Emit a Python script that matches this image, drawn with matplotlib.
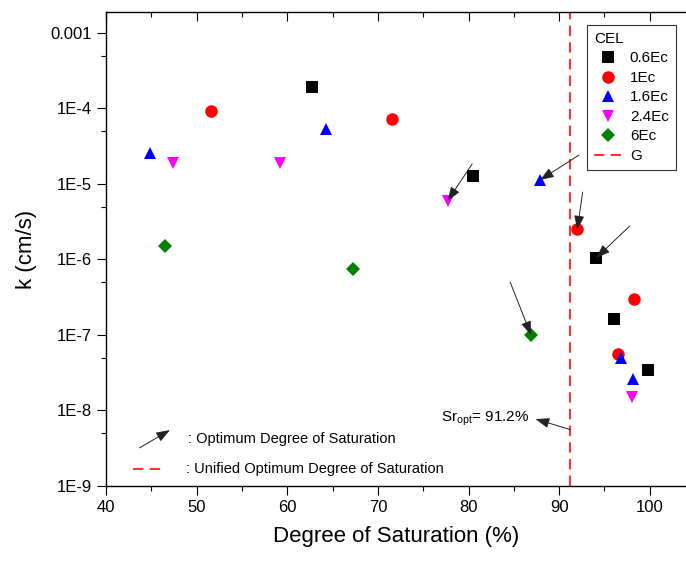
import numpy as np
import matplotlib
matplotlib.use('Agg')
import matplotlib.pyplot as plt
from matplotlib.ticker import FixedLocator, MultipleLocator, NullFormatter

plt.rcParams['font.family'] = ['Liberation Sans', 'DejaVu Sans']
plt.rcParams['mathtext.fontset'] = 'custom'
plt.rcParams['mathtext.rm'] = 'Liberation Sans'
plt.rcParams['mathtext.it'] = 'Liberation Sans:italic'

# 饱和度 Sr(%) 与渗透系数 k(cm/s)，按压实功能 CEL 分组
series_names = ['0.6Ec', '1Ec', '1.6Ec', '2.4Ec', '6Ec']
sr_06 = [62.7, 80.5, 94.1, 96.1, 99.8]
k_06 = [1.93e-4, 1.28e-5, 1.05e-6, 1.62e-7, 3.4e-8]
sr_1 = [51.6, 71.6, 92.0, 98.3, 96.5]
k_1 = [9.3e-5, 7.3e-5, 2.5e-6, 3.0e-7, 5.6e-8]
sr_16 = [44.9, 64.3, 87.9, 96.8, 98.1]
k_16 = [2.6e-5, 5.3e-5, 1.13e-5, 4.9e-8, 2.6e-8]
sr_24 = [47.4, 59.2, 77.7, 98.0]
k_24 = [1.9e-5, 1.9e-5, 6.0e-6, 1.5e-8]
sr_6 = [46.5, 67.2, 86.9]
k_6 = [1.5e-6, 7.5e-7, 1.0e-7]

# 统一最优饱和度
sr_unified = 91.2

# 最优饱和度箭头：(箭尾Sr, 箭尾k, 目标点Sr, 目标点k)
opt_arrows = [
    (80.4, 1.84e-5, sr_24[2], k_24[2]),
    (92.2, 2.42e-5, sr_16[2], k_16[2]),
    (92.6, 7.8e-6, sr_1[2], k_1[2]),
    (97.8, 2.78e-6, sr_06[2], k_06[2]),
    (84.6, 5.0e-7, sr_6[2], k_6[2]),
]

ARROW = dict(arrowstyle='-|>,head_length=0.6,head_width=0.22', lw=0.7,
             color='#222222', shrinkA=0, shrinkB=0, mutation_scale=14)

fig = plt.figure(figsize=(6.86, 5.63), dpi=100)
ax = fig.add_axes([106 / 686, 1 - 486 / 563, 580 / 686, 474 / 563])

styles = [
    (sr_06, k_06, 's', 'black', 8),
    (sr_1, k_1, 'o', 'red', 9),
    (sr_16, k_16, '^', 'blue', 9),
    (sr_24, k_24, 'v', 'magenta', 9),
    (sr_6, k_6, 'D', 'green', 7.5),
]
for name, (xs, ys, mk, c, ms) in zip(series_names, styles):
    ax.plot(xs, ys, linestyle='none', marker=mk, color=c, markersize=ms,
            markeredgewidth=0, label=name, zorder=3)

ax.axvline(sr_unified, color='#ff3333', lw=1.5, dashes=(5, 3), label='G', zorder=2)

for x0, y0, x1, y1 in opt_arrows:
    ax.annotate('', xy=(x1, y1), xytext=(x0, y0), arrowprops=ARROW, zorder=4)

# Sr_opt 标注
ax.annotate('', xy=(87.4, 7.7e-9), xytext=(sr_unified, 5.6e-9), arrowprops=ARROW)
ax.text(86.7, 7.7e-9, r'Sr$_{\rm opt}$= 91.2%', fontsize=11, ha='right', va='center')

# 图例说明（左下）
ax.annotate('', xy=(47.05, 5.5e-9), xytext=(43.7, 3.2e-9), arrowprops=ARROW)
ax.text(49.0, 4.2e-9, ': Optimum Degree of Saturation', fontsize=10.5, va='center')
ax.plot([43.0, 46.2], [1.68e-9, 1.68e-9], color='#ff3333', lw=1.5, dashes=(5, 3))
ax.text(48.8, 1.68e-9, ': Unified Optimum Degree of Saturation', fontsize=10.5, va='center')

ax.set_yscale('log')
ax.set_xlim(40, 104)
ax.set_ylim(1e-9, 10 ** -2.722)

ax.xaxis.set_major_locator(MultipleLocator(10))
ax.xaxis.set_minor_locator(MultipleLocator(5))
ax.yaxis.set_major_locator(FixedLocator([1e-9, 1e-8, 1e-7, 1e-6, 1e-5, 1e-4, 1e-3]))
ax.yaxis.set_minor_locator(FixedLocator([5e-9, 5e-8, 5e-7, 5e-6, 5e-5, 5e-4]))
ax.yaxis.set_minor_formatter(NullFormatter())
ax.set_yticklabels(['1E-9', '1E-8', '1E-7', '1E-6', '1E-5', '1E-4', '0.001'])

ax.tick_params(axis='both', which='major', direction='out', length=6.5, width=0.8,
               labelsize=12)
ax.tick_params(axis='both', which='minor', direction='out', length=3.6, width=0.8)
ax.tick_params(axis='x', which='both', top=True, labeltop=False)
ax.spines['right'].set_visible(False)
for s in ['left', 'bottom', 'top']:
    ax.spines[s].set_linewidth(1.0)

# 顶部刻度朝内
for t in ax.xaxis.get_major_ticks() + ax.xaxis.get_minor_ticks():
    t.tick2line.set_marker(3)

ax.set_xlabel('Degree of Saturation (%)', fontsize=16, labelpad=8)
ax.set_ylabel('k (cm/s)', fontsize=16, labelpad=10)

leg = ax.legend(title='CEL', loc='upper left', bbox_to_anchor=(587 / 686, 1 - 25 / 563),
                bbox_transform=fig.transFigure, fontsize=11, title_fontsize=11,
                frameon=True, fancybox=False, edgecolor='#333333', framealpha=1,
                handlelength=1.9, handletextpad=0.45, labelspacing=0.36,
                borderpad=0.45, borderaxespad=0, alignment='left')
leg.get_frame().set_linewidth(0.8)

fig.savefig('out.png', dpi=100)
